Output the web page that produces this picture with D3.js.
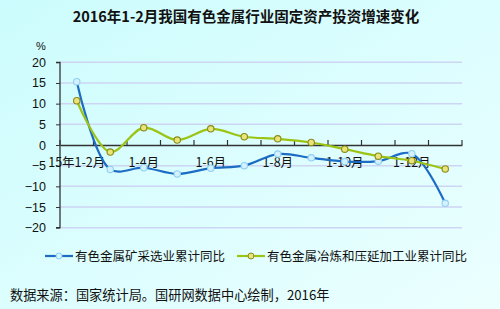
<!DOCTYPE html>
<html>
<head>
<meta charset="utf-8">
<script src="https://cdn.jsdelivr.net/npm/d3@7"></script>
<style>
	body { margin: 0; padding: 0; }
	svg { display: block; font-family: "Liberation Sans", Arial, sans-serif; }
	.cjk { font-family: "Noto Sans CJK SC", "Liberation Sans", sans-serif; }
</style>
</head>
<body>
<svg id="chart" width="500" height="309"></svg>
<script>
'use strict';

// categories (only every other one gets a label)
let months = ["15年1-2月", "1-3月", "1-4月", "1-5月", "1-6月", "1-7月", "1-8月", "1-9月", "1-10月", "1-11月", "1-12月", "16年1-2月"];
let shownLabels = ["15年1-2月", "1-4月", "1-6月", "1-8月", "1-10月", "1-12月"];

// series values, %
let miningValues = [15.3, -5.9, -5.5, -7.0, -5.6, -5.0, -2.2, -3.1, -4.0, -3.9, -2.1, -14.1];
let smeltingValues = [10.7, -1.7, 4.2, 1.2, 3.9, 2.0, 1.5, 0.6, -1.0, -2.7, -3.8, -5.8];

let seriesNames = ["有色金属矿采选业累计同比", "有色金属冶炼和压延加工业累计同比"];
let yTicks = [20, 15, 10, 5, 0, -5, -10, -15, -20];

let svg = d3.select("#chart");
let W = 500, H = 309;

// background
let defs = svg.append("defs");
let grad = defs.append("linearGradient")
	.attr("id", "bg").attr("x1", "0").attr("y1", "0").attr("x2", "1").attr("y2", "1");
grad.append("stop").attr("offset", "0%").attr("stop-color", "#ccfcfd");
grad.append("stop").attr("offset", "100%").attr("stop-color", "#ecffff");
svg.append("rect").attr("width", W).attr("height", H).attr("fill", "url(#bg)");

let plotLeft = 60, plotRight = 462, plotTop = 62.3, plotBottom = 227.7;

let x = d3.scaleBand().domain(months).range([plotLeft, plotRight]);
let y = d3.scaleLinear().domain([-20, 20]).range([plotBottom, plotTop]);

// title
svg.append("text")
	.attr("class", "cjk")
	.attr("x", 246).attr("y", 22)
	.attr("text-anchor", "middle")
	.attr("font-size", 14.5).attr("font-weight", "bold")
	.attr("fill", "#111")
	.text("2016年1-2月我国有色金属行业固定资产投资增速变化");

// gridlines
svg.append("g").selectAll("line")
	.data(yTicks.filter(function(d){ return d != 0; }))
	.enter().append("line")
	.attr("x1", plotLeft).attr("x2", plotRight)
	.attr("y1", function(d){ return y(d); }).attr("y2", function(d){ return y(d); })
	.attr("stroke", "#cdd5f3").attr("stroke-width", 1.5);

// y axis
let yAxis = d3.axisLeft(y).tickValues(yTicks).tickSize(4).tickPadding(10);
let gy = svg.append("g").attr("transform", "translate(" + plotLeft + ",0)").call(yAxis);
gy.select(".domain").attr("stroke", "#333").attr("stroke-width", 1.3).attr("d", "M-4," + plotTop + "H0V" + plotBottom + "H-4");
gy.selectAll(".tick line").attr("stroke", "#333");
gy.selectAll(".tick text").attr("font-size", 12.5).attr("fill", "#111");

svg.append("text")
	.attr("x", 41).attr("y", 50)
	.attr("text-anchor", "middle")
	.attr("font-size", 11).attr("fill", "#111")
	.text("%");

// x axis on the zero line, ticks point up
let xAxis = d3.axisTop(x).tickSize(0).tickFormat("");
let gx = svg.append("g").attr("transform", "translate(0," + y(0) + ")").call(xAxis);
gx.select(".domain").attr("stroke", "#333").attr("stroke-width", 1.3);
let bounds = months.map(function(m){ return x(m); }).concat([plotRight]);
gx.selectAll(".bnd").data(bounds).enter().append("line")
	.attr("x1", function(d){ return d; }).attr("x2", function(d){ return d; })
	.attr("y1", 0).attr("y2", -5)
	.attr("stroke", "#333").attr("stroke-width", 1.2);

// category labels
svg.append("g").selectAll("text")
	.data(shownLabels)
	.enter().append("text")
	.attr("class", "cjk")
	.attr("x", function(d){ return x(d) + x.bandwidth() / 2; })
	.attr("y", y(0) + 22)
	.attr("text-anchor", "middle")
	.attr("font-size", 12.5).attr("fill", "#111")
	.text(function(d){ return d; });

// lines
let series = [
	{ name: seriesNames[0], values: miningValues, color: "#1c6cc4", fill: "#d4f1ff", ring: "#8fd0f2" },
	{ name: seriesNames[1], values: smeltingValues, color: "#9cc414", fill: "#e8e47a", ring: "#8a8a18" }
];

let line = d3.line()
	.x(function(d, i){ return x(months[i]) + x.bandwidth() / 2; })
	.y(function(d){ return y(d); })
	.curve(d3.curveCatmullRom.alpha(0.5));

series.forEach(function(s){
	svg.append("path")
		.attr("d", line(s.values))
		.attr("fill", "none")
		.attr("stroke", s.color)
		.attr("stroke-width", 2.2);
});
series.forEach(function(s){
	svg.append("g").selectAll("circle")
		.data(s.values)
		.enter().append("circle")
		.attr("cx", function(d, i){ return x(months[i]) + x.bandwidth() / 2; })
		.attr("cy", function(d){ return y(d); })
		.attr("r", 3.2)
		.attr("fill", s.fill)
		.attr("stroke", s.ring)
		.attr("stroke-width", 1.1);
});

// legend
let legendX = [45, 237];
series.forEach(function(s, i){
	let g = svg.append("g").attr("transform", "translate(" + legendX[i] + ",256)");
	g.append("line").attr("x1", 0).attr("x2", 28).attr("y1", 0).attr("y2", 0)
		.attr("stroke", s.color).attr("stroke-width", 2.2);
	g.append("circle").attr("cx", 14).attr("cy", 0).attr("r", 3)
		.attr("fill", s.fill).attr("stroke", s.ring).attr("stroke-width", 1);
	g.append("text").attr("class", "cjk")
		.attr("x", 30).attr("y", 4.5)
		.attr("font-size", 12.5).attr("fill", "#111")
		.text(s.name);
});

// source note
svg.append("text")
	.attr("class", "cjk")
	.attr("x", 10).attr("y", 300)
	.attr("font-size", 13.2).attr("fill", "#111")
	.text("数据来源：国家统计局。国研网数据中心绘制，2016年");
</script>
</body>
</html>
